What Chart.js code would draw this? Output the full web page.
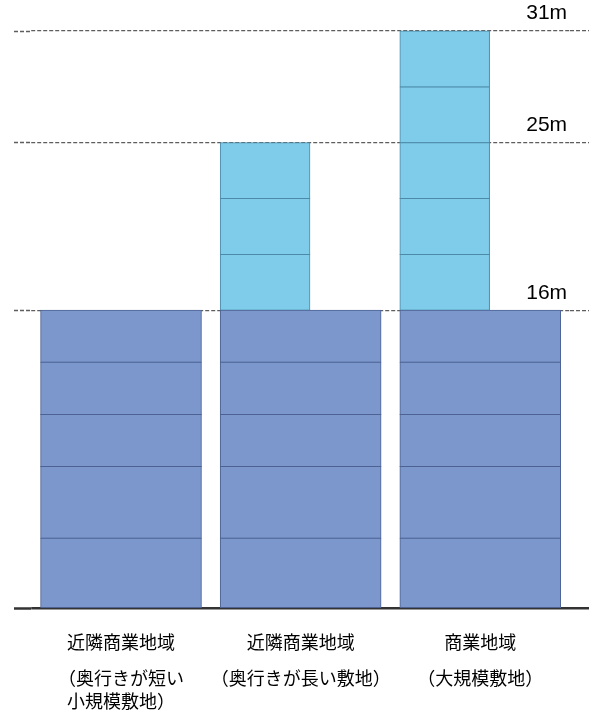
<!DOCTYPE html>
<html><head><meta charset="utf-8">
<script src="https://cdn.jsdelivr.net/npm/chart.js@4"></script>
<style>html,body{margin:0;padding:0;background:#fff}#wrap{position:relative;width:589px;height:713px}</style>
</head><body><div id="wrap"><canvas id="c"></canvas></div>
<script>
const categories = ['近隣商業地域', '近隣商業地域', '商業地域'];
const subLabels = [['（奥行きが短い', '小規模敷地）'], ['（奥行きが長い敷地）'], ['（大規模敷地）']];
const heightLimits = [16, 25, 31];
const heightLabels = ['16m', '25m', '31m'];
// lower floors (m), from ground up
const lowerFloor1 = [3.75, 3.75, 3.75];
const lowerFloor2 = [3.85, 3.85, 3.85];
const lowerFloor3 = [2.8, 2.8, 2.8];
const lowerFloor4 = [2.8, 2.8, 2.8];
const lowerFloor5 = [2.8, 2.8, 2.8];
// upper floors [bottom, top] (m)
const upperFloor1 = [null, [16, 19], [16, 19]];
const upperFloor2 = [null, [19, 22], [19, 22]];
const upperFloor3 = [null, [22, 25], [22, 25]];
const upperFloor4 = [null, null, [25, 28]];
const upperFloor5 = [null, null, [28, 31]];
const yMax = 32;

const LOWER_BG = '#7b97cc', LOWER_BD = '#4d6293';
const UPPER_BG = '#7fcbea', UPPER_BD = '#4d8aa8';

function lowerDs(d, i) {
  return { label: 'lower' + i, data: d, xAxisID: 'x', yAxisID: 'y', backgroundColor: LOWER_BG, borderColor: LOWER_BD,
    borderWidth: 1, borderSkipped: false, grouped: false, barThickness: 160.6, inflateAmount: 0.5 };
}
function upperDs(d, i) {
  const pts = d.map((v, k) => v ? { x: k, y: v } : null).filter(Boolean);
  return { label: 'upper' + i, data: pts, xAxisID: 'x2', yAxisID: 'yU', backgroundColor: UPPER_BG, borderColor: UPPER_BD,
    borderWidth: 1, borderSkipped: false, grouped: false, barThickness: 89.5, inflateAmount: 0.5 };
}
const datasets = [lowerFloor1, lowerFloor2, lowerFloor3, lowerFloor4, lowerFloor5].map(lowerDs)
  .concat([upperFloor1, upperFloor2, upperFloor3, upperFloor4, upperFloor5].map(upperDs));

const isZero = ctx => ctx.tick && ctx.tick.value === 0;
const gColor = ctx => isZero(ctx) ? '#333333' : '#5e5e5e';
const gWidth = ctx => isZero(ctx) ? 2.5 : 1.3;
const gDash = ctx => isZero(ctx) ? [] : [4, 2];
const setTicks = axis => { axis.ticks = [0].concat(heightLimits).map(v => ({ value: v })); };
const cjk = '"Noto Sans CJK JP", "Noto Sans", sans-serif';
const upperShift = 0.198; // upper storeys are drawn flush with the left edge of the podium

const chart = new Chart(document.getElementById('c'), {
  type: 'bar',
  data: { labels: categories, datasets },
  options: {
    responsive: true, maintainAspectRatio: false, animation: false,
    layout: { padding: { left: 14, top: 12.5, right: 0, bottom: 0 } },
    plugins: { legend: { display: false }, tooltip: { enabled: false } },
    scales: {
      x: { type: 'category', position: 'bottom', stacked: true, offset: true, weight: 0,
        grid: { display: false }, border: { display: false },
        ticks: { font: { family: cjk, size: 18 }, color: '#000', padding: 15, maxRotation: 0, autoSkip: false },
        afterFit: a => { a.height = 45; } },
      xsub: { type: 'category', labels: subLabels, position: 'bottom', offset: true, weight: 1,
        grid: { display: false }, border: { display: false },
        ticks: { font: { family: cjk, size: 18, lineHeight: 1.3 }, color: '#000', padding: 5, maxRotation: 0, autoSkip: false },
        afterFit: a => { a.height = 60; } },
      x2: { type: 'linear', display: false, offset: false, grace: 0,
        min: -0.5 + upperShift, max: categories.length - 0.5 + upperShift,
        afterBuildTicks: a => { a.ticks = categories.map((c, i) => ({ value: i })); } },
      y: { type: 'linear', position: 'left', stacked: true, min: 0, max: yMax, afterBuildTicks: setTicks,
        ticks: { display: false },
        grid: { drawOnChartArea: false, drawTicks: true, tickLength: 17.2, tickColor: gColor, tickWidth: gWidth, tickBorderDash: gDash },
        border: { display: false },
        afterFit: a => { a.width = 17.2; } },
      yU: { type: 'linear', display: false, stacked: false, min: 0, max: yMax },
      y2: { type: 'linear', position: 'right', min: 0, max: yMax, afterBuildTicks: setTicks,
        ticks: { mirror: true, padding: -3, labelOffset: -17.5, color: '#000',
          font: { family: '"Liberation Sans", Arial, sans-serif', size: 21 },
          callback: (v, i) => i === 0 ? '' : heightLabels[i - 1] },
        grid: { drawOnChartArea: true, color: gColor, lineWidth: gWidth, tickLength: 20, tickColor: gColor, tickWidth: gWidth, tickBorderDash: gDash },
        border: { display: false, dash: gDash },
        afterFit: a => { a.width = 18.9; } }
    }
  }
});
</script></body></html>
